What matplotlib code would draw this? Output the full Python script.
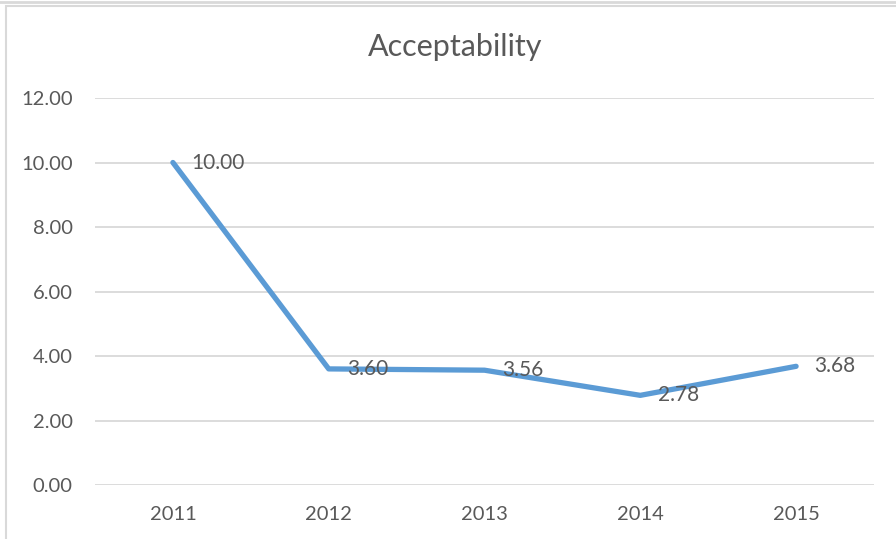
import matplotlib
matplotlib.use("Agg")
import matplotlib.pyplot as plt
from matplotlib.patches import Rectangle
from matplotlib.lines import Line2D

plt.rcParams["font.family"] = ["Lato", "DejaVu Sans"]

years = ["2011", "2012", "2013", "2014", "2015"]
acceptability = [10.00, 3.60, 3.56, 2.78, 3.68]
y_ticks = [0, 2, 4, 6, 8, 10, 12]

text_col = "#595959"
grid_col = "#D9D9D9"
line_col = "#5B9BD5"

fig = plt.figure(figsize=(8.96, 5.39), dpi=100)

# chart frame, cropped at the right and bottom like the screenshot
fig.add_artist(Line2D([0, 1], [1 - 1.5 / 539] * 2, transform=fig.transFigure,
                      color=grid_col, lw=2))
fig.add_artist(Rectangle((6 / 896, -0.1), 1.2, 1.1 - 6 / 539,
                         transform=fig.transFigure, fill=False,
                         edgecolor=grid_col, lw=1.5))

ax = fig.add_axes([95 / 896, 54 / 539, 779 / 896, 387 / 539])
x = list(range(len(years)))
ax.plot(x, acceptability, color=line_col, lw=3.8, solid_capstyle="round",
        solid_joinstyle="round", zorder=3)

for xi, v in zip(x, acceptability):
    ax.annotate(f"{v:.2f}", (xi, v), xytext=(13, 0), textcoords="offset points",
                ha="left", va="center", fontsize=15, color=text_col, zorder=4)

ax.set_xlim(-0.5, len(years) - 0.5)
ax.set_ylim(0, 12)
ax.set_xticks(x)
ax.set_xticklabels(years)
ax.set_yticks(y_ticks)
ax.set_yticklabels([f"{t:.2f}" for t in y_ticks])
ax.tick_params(axis="both", length=0, labelsize=14.5, labelcolor=text_col)
ax.tick_params(axis="y", pad=16)
ax.tick_params(axis="x", pad=15)
ax.grid(axis="y", color=grid_col, lw=1.3)
ax.set_axisbelow(True)
for s in ax.spines.values():
    s.set_visible(False)

fig.text(455 / 896, 1 - 47 / 539, "Acceptability", ha="center", va="center",
         fontsize=22, color=text_col)

fig.savefig("out.png", dpi=100)
